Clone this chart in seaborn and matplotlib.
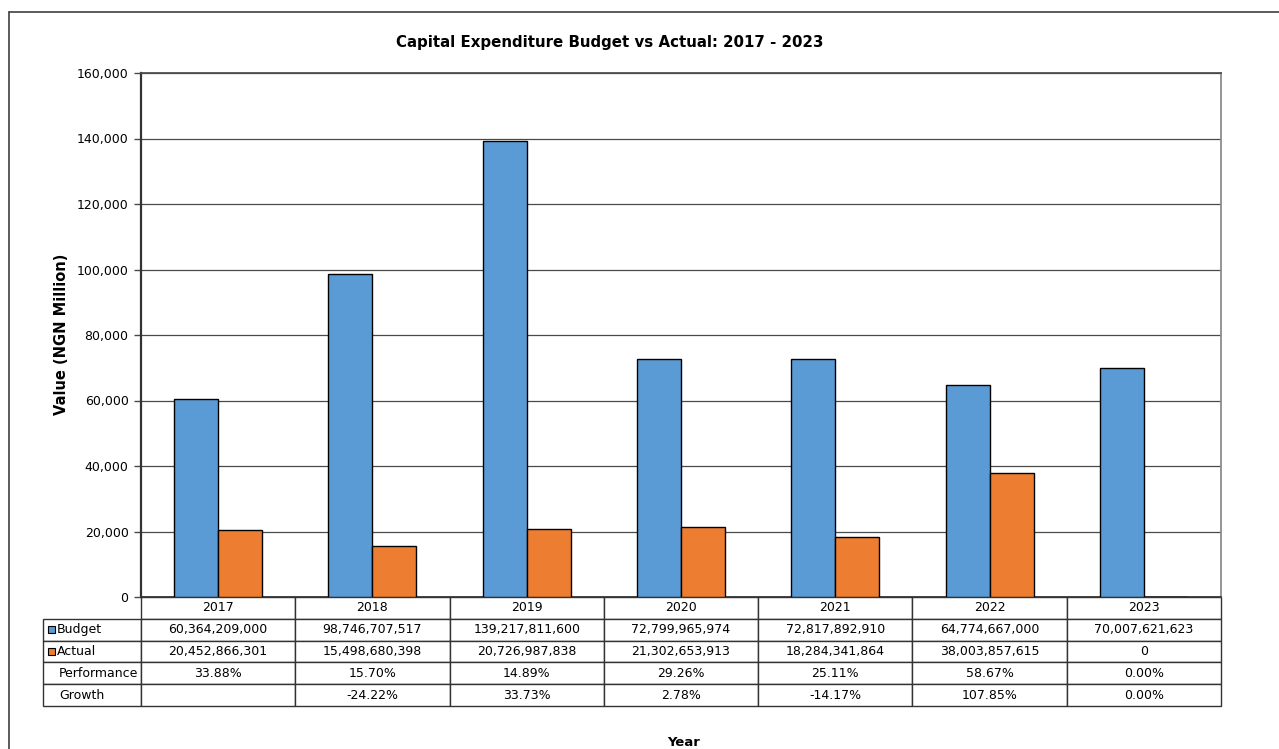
import matplotlib
matplotlib.use("Agg")
import matplotlib.pyplot as plt
from matplotlib.patches import Rectangle
from matplotlib.lines import Line2D
from matplotlib.ticker import FuncFormatter
import seaborn as sns
import pandas as pd

# Capital expenditure, Naira
years = ["2017", "2018", "2019", "2020", "2021", "2022", "2023"]
budget = [60364209000, 98746707517, 139217811600, 72799965974,
          72817892910, 64774667000, 70007621623]
actual = [20452866301, 15498680398, 20726987838, 21302653913,
          18284341864, 38003857615, 0]
performance = ["33.88%", "15.70%", "14.89%", "29.26%", "25.11%", "58.67%", "0.00%"]
growth = ["", "-24.22%", "33.73%", "2.78%", "-14.17%", "107.85%", "0.00%"]
series_names = ["Budget", "Actual"]
row_labels = ["Budget", "Actual", "Performance", "Growth"]
y_ticks = [0, 20000, 40000, 60000, 80000, 100000, 120000, 140000, 160000]

colors = {"Budget": "#5B9BD5", "Actual": "#ED7D31"}

df = pd.DataFrame({
    "Year": years * 2,
    "Series": [series_names[0]] * len(years) + [series_names[1]] * len(years),
    "Value": [v / 1e6 for v in budget] + [v / 1e6 for v in actual],
})

sns.set_theme(style="white")
plt.rcParams["font.family"] = ["DejaVu Sans"]
plt.rcParams["text.color"] = "black"

W, H = 1279, 749
fig = plt.figure(figsize=(W / 100, H / 100), dpi=100)
ax_l, ax_r, ax_t, ax_b = 141, 1221, 73, 597
ax = fig.add_axes([ax_l / W, 1 - ax_b / H, (ax_r - ax_l) / W, (ax_b - ax_t) / H])

sns.barplot(data=df, x="Year", y="Value", hue="Series", palette=colors,
            width=0.57, edgecolor="black", linewidth=1.0, legend=False,
            saturation=1, ax=ax, zorder=3)

grid_c = "#4a4a4a"
ax.set_ylim(0, 160000)
ax.set_yticks(y_ticks)
ax.yaxis.set_major_formatter(FuncFormatter(lambda v, p: f"{int(v):,}"))
ax.tick_params(axis="y", labelsize=9, length=5, width=1, color=grid_c,
               direction="out", left=True, pad=4, labelcolor="black")
ax.set_xticks([])
ax.set_xlabel("")
ax.set_ylabel("")
ax.grid(axis="y", color=grid_c, linewidth=0.9, zorder=0)
ax.set_xlim(-0.5, len(years) - 0.5)
for side in ["left", "top", "right", "bottom"]:
    ax.spines[side].set_visible(True)
ax.spines["left"].set_color("#333333")
ax.spines["left"].set_linewidth(1.6)
ax.spines["top"].set_color(grid_c)
ax.spines["right"].set_color("#888888")
ax.spines["bottom"].set_color("#333333")

# Data table under the bars
def fmt(v):
    return f"{v:,}"

cell_text = [[""] + years,
             [""] + [fmt(v) for v in budget],
             [""] + [fmt(v) for v in actual],
             [""] + performance,
             [""] + growth]
plot_w = ax_r - ax_l
plot_h = ax_b - ax_t
tab_l, tab_b = 43, 706
lab_w = ax_l - tab_l
col_w = plot_w / len(years)
tbl = ax.table(cellText=cell_text, cellLoc="center",
               colWidths=[lab_w] + [col_w] * len(years),
               bbox=[(tab_l - ax_l) / plot_w, -(tab_b - ax_b) / plot_h,
                     (ax_r - tab_l) / plot_w, (tab_b - ax_b) / plot_h])
tbl.auto_set_font_size(False)
tbl.set_fontsize(9)
for (r, c), cell in tbl.get_celld().items():
    cell.set_edgecolor("#333333")
    cell.set_linewidth(1.0)
    cell.set_facecolor("white")
    cell.get_text().set_color("black")
if (0, 0) in tbl.get_celld():
    tbl[(0, 0)].visible_edges = ""

row_h = (tab_b - ax_b) / 5
for i, lab in enumerate(row_labels):
    yc = ax_b + row_h * (i + 1.5)
    y_ax = -(yc - ax_b) / plot_h
    if lab in colors:
        sq = 7
        ax.add_patch(Rectangle(((48 - ax_l) / plot_w, y_ax - (sq / 2) / plot_h),
                               sq / plot_w, sq / plot_h, transform=ax.transAxes,
                               facecolor=colors[lab], edgecolor="black",
                               linewidth=0.8, clip_on=False, zorder=5))
        x0 = 57
    else:
        x0 = 59
    ax.text((x0 - ax_l) / plot_w, y_ax, lab, transform=ax.transAxes,
            ha="left", va="center", fontsize=9, color="black")

fig.text(610 / W, 1 - 43 / H, "Capital Expenditure Budget vs Actual: 2017 - 2023",
         ha="center", va="center", fontsize=10.8, fontweight="bold")
fig.text(62 / W, 1 - 334 / H, "Value (NGN Million)", rotation=90,
         ha="center", va="center", fontsize=10.5, fontweight="bold")
fig.text(684 / W, 1 - 742 / H, "Year", ha="center", va="center",
         fontsize=9.5, fontweight="bold")

# Outer chart frame
fig.add_artist(Line2D([9 / W, 1.01], [1 - 12 / H, 1 - 12 / H],
                      transform=fig.transFigure, color="#404040", lw=1.2))
fig.add_artist(Line2D([9 / W, 9 / W], [1 - 12 / H, -0.01],
                      transform=fig.transFigure, color="#404040", lw=1.2))

fig.savefig("out.png", dpi=100, facecolor="white")
